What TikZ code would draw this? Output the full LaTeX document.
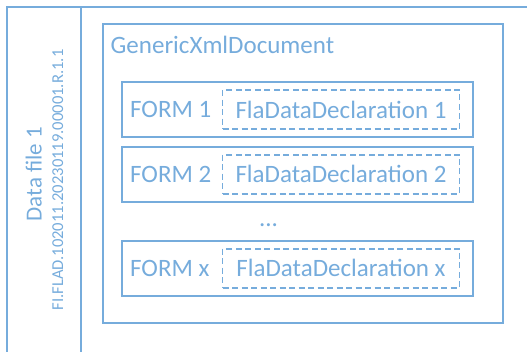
\documentclass[tikz,border=0pt]{standalone}
\usepackage{fontspec}
\setmainfont{Carlito}
\usetikzlibrary{positioning}

\definecolor{lineblue}{RGB}{118,172,220}

\tikzset{
  box/.style={draw=lineblue, line width=2.4pt, inner sep=0pt},
  formbox/.style={box, anchor=north west, minimum width=351pt, minimum height=55pt},
  declbox/.style={box, dashed, dash pattern=on 6pt off 3.5pt, line width=1.8pt,
    minimum width=237pt, minimum height=39pt, text=lineblue,
    font=\fontsize{25}{30}\selectfont},
  lbl/.style={text=lineblue, inner sep=0pt, font=\fontsize{25}{30}\selectfont}
}

\begin{document}
\begin{tikzpicture}[x=1pt, y=-1pt]
  \clip (0,0) rectangle (527,351);

  % Data file container
  \draw[lineblue, line width=2.4pt] (7,7) rectangle (620,420);
  \draw[lineblue, line width=2.4pt] (81,7) -- (81,420);
  \node[lbl, rotate=90, anchor=base, font=\fontsize{23}{28}\selectfont] (title) at (41.5,174) {Data file 1};
  \node[lbl, rotate=90, anchor=base, font=\fontsize{16.6}{20}\selectfont] (fileid) at (63,180) {FI.FLAD.102011.20230119.00001.R.1.1};

  % Document
  \node[box, anchor=north west, minimum width=400pt, minimum height=299pt] (doc) at (102,23) {};
  \node[lbl, anchor=base west] (doclbl) at (110.5,53.3) {GenericXmlDocument};

  % Forms
  \node[formbox] (form1) at (121,81) {};
  \node[lbl, right=9pt of form1.west] (form1lbl) {FORM 1};
  \node[declbox, left=14pt of form1.east] (decl1) {FlaDataDeclaration 1};

  \node[formbox] (form2) at (121,145.5) {};
  \node[lbl, right=9pt of form2.west] (form2lbl) {FORM 2};
  \node[declbox, left=14pt of form2.east] (decl2) {FlaDataDeclaration 2};

  \node[lbl, anchor=base] (dots) at (268.5,226) {...};

  \node[formbox] (formx) at (121,239.5) {};
  \node[lbl, right=9pt of formx.west] (formxlbl) {FORM x};
  \node[declbox, left=14pt of formx.east] (declx) {FlaDataDeclaration x};

\end{tikzpicture}
\end{document}
